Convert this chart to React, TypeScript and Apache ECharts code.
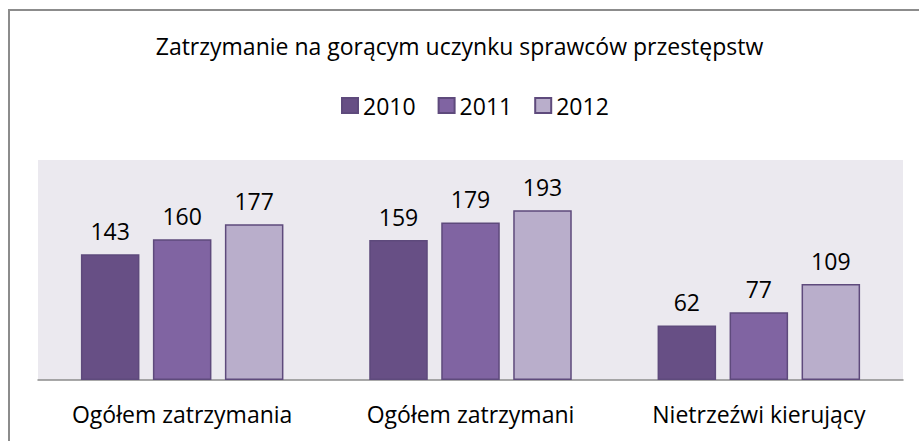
import React, { useEffect, useRef } from "react";
import * as echarts from "echarts";

const categories = ["Ogółem zatrzymania", "Ogółem zatrzymani", "Nietrzeźwi kierujący"];
const seriesNames = ["2010", "2011", "2012"];
const values2010 = [143, 159, 62];
const values2011 = [160, 179, 77];
const values2012 = [177, 193, 109];
const fills = ["#674f85", "#8064a2", "#b9aecb"];
const titleText = "Zatrzymanie na gorącym uczynku sprawców przestępstw";

const FONT = "Open Sans";

export default function App() {
  const ref = useRef<HTMLDivElement>(null);
  useEffect(() => {
    if (!ref.current) return;
    const chart = echarts.init(ref.current, null, { renderer: "svg" });
    const data = [values2010, values2011, values2012];
    chart.setOption({
      animation: false,
      backgroundColor: "#ffffff",
      textStyle: { fontFamily: FONT },
      title: {
        text: titleText,
        left: "center",
        top: 34,
        padding: 0,
        textStyle: { fontFamily: FONT, fontSize: 23, fontWeight: "normal", color: "#000" },
      },
      legend: {
        top: 94,
        left: 341,
        padding: 0,
        itemWidth: 16,
        itemHeight: 15,
        itemGap: 22,
        icon: "rect",
        textStyle: { fontFamily: FONT, fontSize: 23, color: "#000" },
        data: seriesNames,
      },
      graphic: [
        {
          type: "rect",
          shape: { x: 9, y: 10, width: 1000, height: 1000 },
          style: { fill: "none", stroke: "#8c8c8c", lineWidth: 2 },
          silent: true,
        },
      ],
      grid: {
        left: 38,
        right: 16,
        top: 160,
        bottom: 61,
        show: true,
        backgroundColor: "#ebe9ef",
        borderWidth: 0,
        containLabel: false,
      },
      xAxis: {
        type: "category",
        data: categories,
        axisLine: { show: true, lineStyle: { color: "#8c8c8c", width: 1.5 } },
        axisTick: { show: false },
        axisLabel: { fontFamily: FONT, fontSize: 23, color: "#000", margin: 22 },
      },
      yAxis: {
        type: "value",
        min: 0,
        max: 250,
        show: false,
        splitLine: { show: false },
      },
      series: seriesNames.map((name, i) => ({
        name,
        type: "bar",
        data: data[i],
        barWidth: "20.3%",
        barGap: "23%",
        itemStyle: { color: fills[i], borderColor: "#5e4a7c", borderWidth: 1.5 },
        label: {
          show: true,
          position: "top",
          distance: 12,
          fontFamily: FONT,
          fontSize: 23,
          color: "#000",
        },
      })),
    });
    return () => chart.dispose();
  }, []);
  return (
    <div
      ref={ref}
      style={{ position: "absolute", left: 0, top: 0, width: 919, height: 441 }}
    />
  );
}
